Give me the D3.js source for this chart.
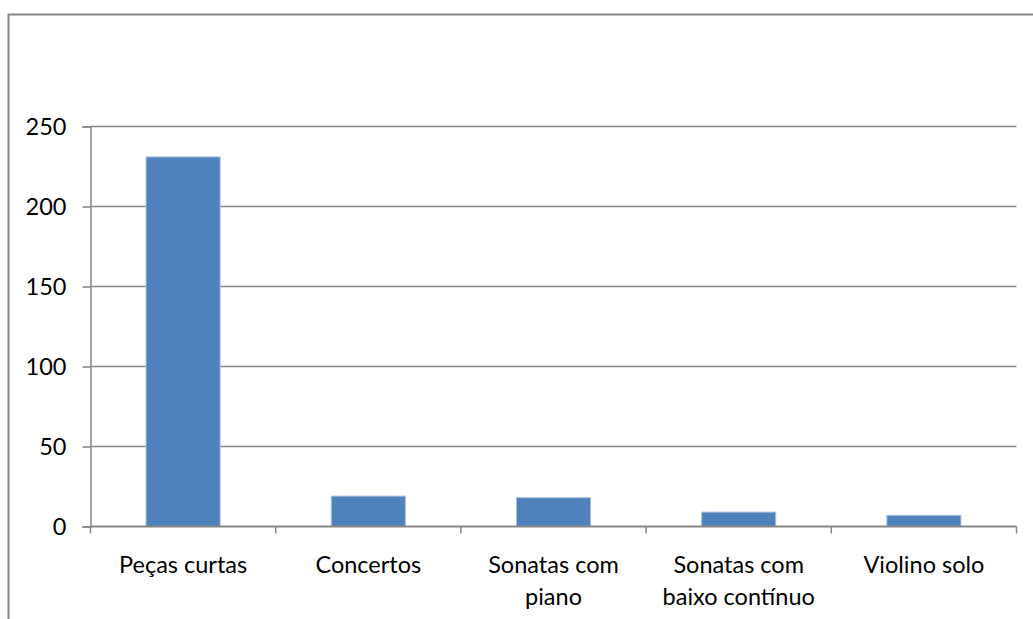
<!DOCTYPE html>
<html lang="pt">
<head>
  <meta charset="UTF-8">
  <title>Obras</title>
  <style>
    html, body { margin: 0; background: #fff; }
    svg { display: block; }
  </style>
</head>
<body>
  <script src="https://d3js.org/d3.v7.min.js"></script>
  <script>
    const categories = ["Peças curtas", "Concertos", "Sonatas com piano", "Sonatas com baixo contínuo", "Violino solo"];
    const labelLines = [["Peças curtas"], ["Concertos"], ["Sonatas com", "piano"], ["Sonatas com", "baixo contínuo"], ["Violino solo"]];
    const values = [231, 19, 18, 9, 7];
    const yTicks = [0, 50, 100, 150, 200, 250];

    const W = 1033, H = 619;
    const m = { left: 90.5, right: 1016.5, top: 126.5, bottom: 526.5 };
    const font = "Lato, 'Open Sans', sans-serif";
    const fs = 23.5;

    const svg = d3.select("body").append("svg")
      .attr("width", W)
      .attr("height", H);

    // outer chart border
    svg.append("rect")
      .attr("x", 8.5).attr("y", 14.5)
      .attr("width", W + 10).attr("height", H + 10)
      .attr("fill", "none")
      .attr("stroke", "#868686")
      .attr("stroke-width", 2);

    const x = d3.scaleBand()
      .domain(categories)
      .range([m.left, m.right])
      .paddingInner(0.6)
      .paddingOuter(0.3);

    const y = d3.scaleLinear()
      .domain([0, 250])
      .range([m.bottom, m.top]);

    // gridlines
    svg.append("g")
      .selectAll("line")
      .data(yTicks.filter(d => d > 0))
      .join("line")
      .attr("x1", m.left).attr("x2", m.right)
      .attr("y1", d => y(d)).attr("y2", d => y(d))
      .attr("stroke", "#868686")
      .attr("stroke-width", 1.5);

    // y axis
    const yAxis = svg.append("g")
      .attr("transform", `translate(${m.left},0)`)
      .call(d3.axisLeft(y).tickValues(yTicks).tickSize(8).tickPadding(16));
    yAxis.select(".domain").attr("stroke", "#868686").attr("stroke-width", 1.5);
    yAxis.selectAll(".tick line").attr("stroke", "#868686").attr("stroke-width", 1.5);
    yAxis.selectAll(".tick text")
      .attr("font-family", font)
      .attr("font-size", fs)
      .attr("fill", "#000");

    // bars
    svg.append("g")
      .selectAll("rect")
      .data(values)
      .join("rect")
      .attr("x", (d, i) => x(categories[i]))
      .attr("y", d => y(d))
      .attr("width", x.bandwidth())
      .attr("height", d => y(0) - y(d))
      .attr("fill", "#4F81BD")
      .attr("stroke", "#A7C0DE")
      .attr("stroke-width", 1);

    // x axis
    const step = (m.right - m.left) / categories.length;
    svg.append("line")
      .attr("x1", m.left).attr("x2", m.right)
      .attr("y1", m.bottom).attr("y2", m.bottom)
      .attr("stroke", "#868686")
      .attr("stroke-width", 2);
    svg.append("g")
      .selectAll("line")
      .data(d3.range(categories.length + 1))
      .join("line")
      .attr("x1", i => m.left + i * step).attr("x2", i => m.left + i * step)
      .attr("y1", m.bottom).attr("y2", m.bottom + 7)
      .attr("stroke", "#868686")
      .attr("stroke-width", 1.5);

    // category labels
    const lab = svg.append("g")
      .selectAll("text")
      .data(categories)
      .join("text")
      .attr("x", d => x(d) + x.bandwidth() / 2)
      .attr("y", 573)
      .attr("text-anchor", "middle")
      .attr("font-family", font)
      .attr("font-size", fs)
      .attr("fill", "#000");
    lab.each(function (d, i) {
      const t = d3.select(this);
      labelLines[i].forEach((ln, j) => {
        t.append("tspan")
          .attr("x", x(d) + x.bandwidth() / 2)
          .attr("dy", j === 0 ? 0 : 32)
          .text(ln);
      });
    });
  </script>
</body>
</html>
